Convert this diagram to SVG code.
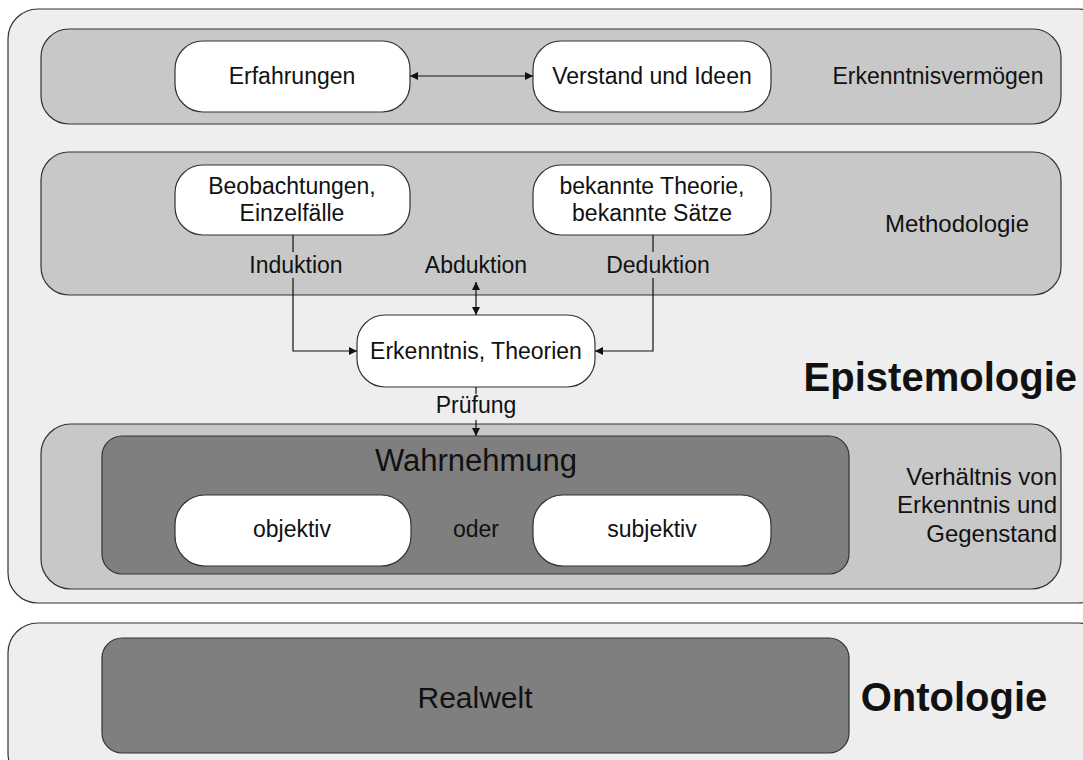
<svg xmlns="http://www.w3.org/2000/svg" width="1083" height="760" viewBox="0 0 1083 760">
  <style>
    text { font-family: "Liberation Sans", Arial, sans-serif; fill: #111; }
    .n { font-size: 23px; text-anchor: middle; }
    .side { font-size: 24px; }
    .big { font-size: 31px; text-anchor: middle; }
    .title { font-size: 40px; font-weight: bold; }
    .frame { fill: #eeeeee; stroke: #333; stroke-width: 1.2; }
    .band { fill: #c8c8c8; stroke: #333; stroke-width: 1.2; }
    .dark { fill: #7f7f7f; stroke: #333; stroke-width: 1.2; }
    .node { fill: #ffffff; stroke: #333; stroke-width: 1.2; }
    .edge { fill: none; stroke: #111; stroke-width: 1.2; }
  </style>
  <defs>
    <marker id="arr" viewBox="0 0 10 10" refX="10" refY="5" markerWidth="8" markerHeight="8" markerUnits="userSpaceOnUse" orient="auto-start-reverse">
      <path d="M0,0 L10,5 L0,10 z" fill="#111"/>
    </marker>
  </defs>

  <rect width="1083" height="760" fill="#ffffff"/>

  <!-- Epistemologie frame -->
  <g id="epistemologie">
    <rect class="frame" x="8" y="9" width="1100" height="594" rx="30"/>
    <text class="title" x="1077" y="391" text-anchor="end">Epistemologie</text>
  </g>

  <!-- Erkenntnisvermoegen band -->
  <g id="erkenntnisvermoegen">
    <rect class="band" x="41" y="29" width="1020" height="95" rx="28"/>
    <text class="side" x="938" y="84" text-anchor="middle" style="font-size:23px">Erkenntnisvermögen</text>
  </g>
  <g id="erfahrungen">
    <rect class="node" x="175" y="41" width="235" height="71" rx="28"/>
    <text class="n" x="292" y="84">Erfahrungen</text>
  </g>
  <g id="verstand">
    <rect class="node" x="533" y="41" width="238" height="71" rx="28"/>
    <text class="n" x="652" y="84">Verstand und Ideen</text>
  </g>

  <!-- Methodologie band -->
  <g id="methodologie">
    <rect class="band" x="41" y="152" width="1020" height="143" rx="28"/>
    <text class="side" x="957" y="232" text-anchor="middle">Methodologie</text>
  </g>
  <g id="beobachtungen">
    <rect class="node" x="175" y="165" width="235" height="70" rx="28"/>
    <text class="n" x="292" y="194">Beobachtungen,</text>
    <text class="n" x="292" y="221">Einzelfälle</text>
  </g>
  <g id="theorie">
    <rect class="node" x="533" y="165" width="238" height="70" rx="28"/>
    <text class="n" x="652" y="194">bekannte Theorie,</text>
    <text class="n" x="652" y="221">bekannte Sätze</text>
  </g>
  <g id="erkenntnis">
    <rect class="node" x="357" y="315" width="238" height="72" rx="28"/>
    <text class="n" x="476" y="359">Erkenntnis, Theorien</text>
  </g>

  <!-- Verhaeltnis band -->
  <g id="verhaeltnis">
    <rect class="band" x="41" y="424" width="1020" height="165" rx="30"/>
    <text class="side" x="1057" y="485" text-anchor="end">Verhältnis von</text>
    <text class="side" x="1057" y="513" text-anchor="end">Erkenntnis und</text>
    <text class="side" x="1057" y="542" text-anchor="end">Gegenstand</text>
  </g>
  <g id="wahrnehmung">
    <rect class="dark" x="102" y="436" width="747" height="138" rx="20"/>
    <text class="big" x="476" y="471">Wahrnehmung</text>
    <text class="n" x="476" y="537">oder</text>
  </g>
  <g id="objektiv">
    <rect class="node" x="175" y="495" width="236" height="71" rx="30"/>
    <text class="n" x="292" y="537">objektiv</text>
  </g>
  <g id="subjektiv">
    <rect class="node" x="533" y="495" width="238" height="71" rx="30"/>
    <text class="n" x="652" y="537">subjektiv</text>
  </g>

  <!-- Ontologie frame -->
  <g id="ontologie">
    <rect class="frame" x="8" y="623" width="1100" height="160" rx="30"/>
    <text class="title" x="954" y="711" text-anchor="middle">Ontologie</text>
  </g>
  <g id="realwelt">
    <rect class="dark" x="102" y="638" width="747" height="115" rx="20"/>
    <text class="big" x="475" y="708" style="font-size:30px">Realwelt</text>
  </g>

  <!-- connectors -->
  <g id="connectors">
    <line class="edge" x1="410" y1="76" x2="533" y2="76" marker-start="url(#arr)" marker-end="url(#arr)"/>
    <path class="edge" d="M293,235 V351 H357" marker-end="url(#arr)"/>
    <path class="edge" d="M653,235 V351 H595" marker-end="url(#arr)"/>
    <line class="edge" x1="476" y1="282" x2="476" y2="315" marker-start="url(#arr)" marker-end="url(#arr)"/>
    <line class="edge" x1="476" y1="387" x2="476" y2="436" marker-end="url(#arr)"/>
  </g>

  <!-- connector labels -->
  <g id="labels">
    <rect x="240" y="252" width="110" height="26" fill="#c8c8c8"/>
    <text class="n" x="296" y="273">Induktion</text>
    <text class="n" x="476" y="273">Abduktion</text>
    <rect x="600" y="252" width="116" height="26" fill="#c8c8c8"/>
    <text class="n" x="658" y="273">Deduktion</text>
    <rect x="428" y="394" width="96" height="26" fill="#eeeeee"/>
    <text class="n" x="476" y="413">Prüfung</text>
  </g>
</svg>
